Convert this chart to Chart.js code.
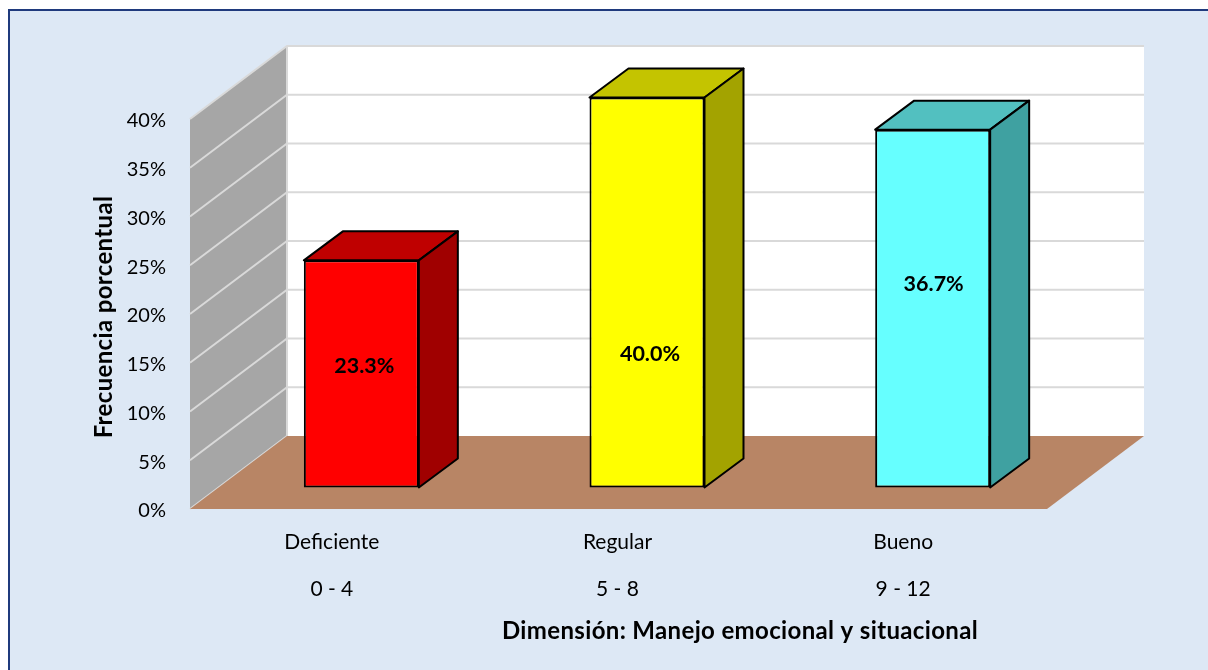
<!DOCTYPE html>
<html>
<head>
<meta charset="utf-8">
<script src="https://cdn.jsdelivr.net/npm/chart.js@4/dist/chart.umd.min.js"></script>
<style>
  html, body { margin: 0; background: #fff; overflow: hidden; }
  #panel { position: absolute; left: 8px; top: 9px; width: 1220px; height: 680px; background: #dde8f5; border: 2px solid #1f3a7d; }
  canvas { position: absolute; left: 0; top: 0; }
</style>
</head>
<body>
<div id="panel"></div>
<canvas id="chart" width="1208" height="670"></canvas>
<script>
var categories = ['Deficiente', 'Regular', 'Bueno'];
var ranges = ['0 - 4', '5 - 8', '9 - 12'];
var values = [23.3, 40.0, 36.7];
var yTicks = [0, 5, 10, 15, 20, 25, 30, 35, 40];

var frontColors = ['#ff0000', '#ffff00', '#66ffff'];
var topColors = ['#bf0000', '#c4c400', '#52c0c0'];
var sideColors = ['#a00000', '#a3a300', '#3fa1a1'];

// depth of the 3d box and where the bars sit inside it
var depth = { x: 97, y: -73 };
var barShift = { x: 28.5, y: -21.5 };
var barDepth = { x: 39, y: -29 };
// the labels are not centred in the bars in the original
var labelShift = [[3, -8], [3, 62], [1, -25]];

function poly(ctx, pts, fill, stroke, width) {
  ctx.beginPath();
  pts.forEach(function (p, i) {
    if (i === 0) ctx.moveTo(p[0], p[1]);
    else ctx.lineTo(p[0], p[1]);
  });
  ctx.closePath();
  ctx.fillStyle = fill;
  ctx.fill();
  if (stroke) {
    ctx.strokeStyle = stroke;
    ctx.lineWidth = width;
    ctx.lineJoin = 'round';
    ctx.stroke();
  }
}

var box3d = {
  id: 'box3d',
  beforeDatasetsDraw: function (chart) {
    var ctx = chart.ctx;
    var a = chart.chartArea;
    var y = chart.scales.y;
    var dx = depth.x, dy = depth.y;

    poly(ctx, [[a.left + dx, a.top + dy], [a.right + dx, a.top + dy], [a.right + dx, a.bottom + dy], [a.left + dx, a.bottom + dy]], '#ffffff');
    poly(ctx, [[a.left, a.bottom], [a.left + dx, a.bottom + dy], [a.left + dx, a.top + dy], [a.left, a.top]], '#a6a6a6');

    ctx.strokeStyle = '#d9d9d9';
    ctx.lineWidth = 2;
    yTicks.forEach(function (t) {
      var py = y.getPixelForValue(t);
      ctx.beginPath();
      ctx.moveTo(a.left, py);
      ctx.lineTo(a.left + dx, py + dy);
      if (t > 0) ctx.lineTo(a.right + dx, py + dy);
      ctx.stroke();
    });
    ctx.beginPath();
    ctx.moveTo(a.left + dx, a.top + dy);
    ctx.lineTo(a.left + dx, a.bottom + dy);
    ctx.stroke();
    poly(ctx, [[a.left, a.bottom], [a.left + dx, a.bottom + dy], [a.right + dx, a.bottom + dy], [a.right, a.bottom]], '#b88565');

    ctx.save();
    ctx.translate(barShift.x, barShift.y);
    chart.getDatasetMeta(0).data.forEach(function (bar, i) {
      var p = bar.getProps(['x', 'y', 'base', 'width']);
      var l = p.x - p.width / 2, r = p.x + p.width / 2;
      var bx = barDepth.x, by = barDepth.y;
      poly(ctx, [[l, p.y], [l + bx, p.y + by], [r + bx, p.y + by], [r, p.y]], topColors[i], '#000', 2);
      poly(ctx, [[r, p.y], [r + bx, p.y + by], [r + bx, p.base + by], [r, p.base]], sideColors[i], '#000', 2);
    });
  },
  afterDatasetsDraw: function (chart) {
    var ctx = chart.ctx;
    ctx.font = 'bold 21.5px Lato';
    ctx.fillStyle = '#000';
    ctx.textAlign = 'center';
    ctx.textBaseline = 'middle';
    chart.getDatasetMeta(0).data.forEach(function (bar, i) {
      var p = bar.getProps(['x', 'y', 'base']);
      ctx.fillText(values[i].toFixed(1) + '%', p.x + labelShift[i][0], (p.y + p.base) / 2 + labelShift[i][1]);
    });
    ctx.restore();

    // both titles sit off centre in the original, so the scale titles can't place them
    ctx.save();
    ctx.font = 'bold 24px Lato';
    ctx.letterSpacing = '0.35px';
    ctx.fillStyle = '#000';
    ctx.textAlign = 'center';
    ctx.textBaseline = 'middle';
    ctx.fillText('Dimensión: Manejo emocional y situacional', 740, 631);
    ctx.translate(104, 317);
    ctx.rotate(-Math.PI / 2);
    ctx.fillText('Frecuencia porcentual', 0, 0);
    ctx.restore();
  }
};

new Chart(document.getElementById('chart').getContext('2d'), {
  type: 'bar',
  data: {
    labels: categories.map(function (c, i) { return [c, ranges[i]]; }),
    datasets: [{
      data: values,
      backgroundColor: frontColors,
      borderColor: '#000',
      borderWidth: 2,
      borderSkipped: false,
      barPercentage: 115 / 285.67,
      categoryPercentage: 1,
      clip: false
    }]
  },
  options: {
    responsive: false,
    animation: false,
    events: [],
    layout: { padding: { top: 119, right: 161, left: 90, bottom: 0 } },
    plugins: { legend: { display: false }, tooltip: { enabled: false } },
    scales: {
      x: {
        grid: { display: false },
        border: { display: false },
        ticks: { color: '#000', padding: 2, labelOffset: -1, maxRotation: 0, autoSkip: false, font: { family: 'Lato', size: 21, lineHeight: 2.24 } },
        afterFit: function (s) { s.height = 161; }
      },
      y: {
        min: 0,
        max: 40,
        afterBuildTicks: function (s) { s.ticks = yTicks.map(function (v) { return { value: v }; }); },
        grid: { display: false },
        border: { display: false },
        ticks: { color: '#000', padding: 16, labelOffset: 2, callback: function (v) { return v + '%'; }, font: { family: 'Lato', size: 20 } },
        afterFit: function (s) { s.width = 100; }
      }
    }
  },
  plugins: [box3d]
});
</script>
</body>
</html>
